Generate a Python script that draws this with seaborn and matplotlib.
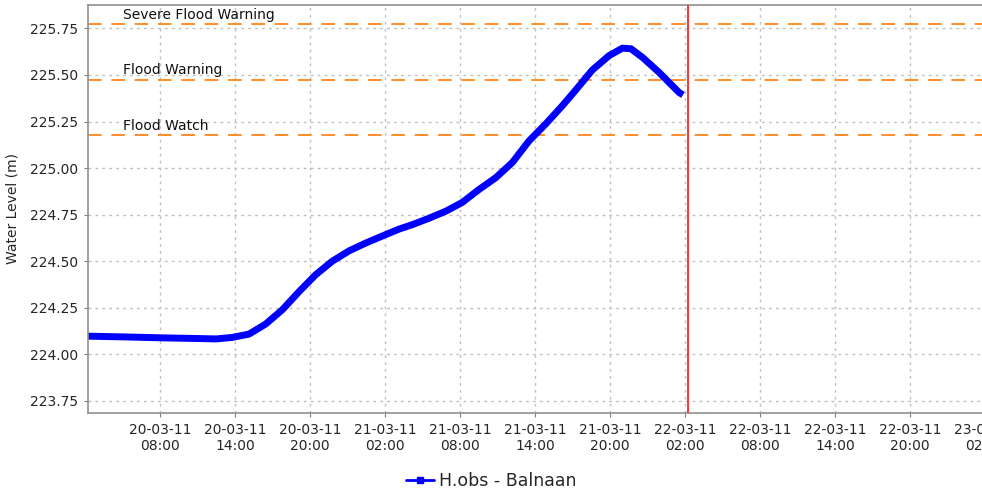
import pandas as pd
import numpy as np
import matplotlib
matplotlib.use('Agg')
import matplotlib.pyplot as plt
import matplotlib.dates as mdates
import seaborn as sns

# water level readings
obs_times = ['2011-03-20 02:00', '2011-03-20 05:00', '2011-03-20 08:00', '2011-03-20 11:07',
             '2011-03-20 12:30', '2011-03-20 13:46', '2011-03-20 15:07', '2011-03-20 16:27',
             '2011-03-20 17:47', '2011-03-20 19:07', '2011-03-20 20:27', '2011-03-20 21:47',
             '2011-03-20 23:07', '2011-03-21 00:27', '2011-03-21 01:47', '2011-03-21 03:07',
             '2011-03-21 04:11', '2011-03-21 05:30', '2011-03-21 06:51', '2011-03-21 08:10',
             '2011-03-21 09:31', '2011-03-21 10:51', '2011-03-21 12:11', '2011-03-21 13:31',
             '2011-03-21 14:51', '2011-03-21 16:11', '2011-03-21 17:15', '2011-03-21 18:35',
             '2011-03-21 19:55', '2011-03-21 20:59', '2011-03-21 21:40', '2011-03-21 22:35',
             '2011-03-21 23:55', '2011-03-22 01:31', '2011-03-22 01:50']
obs_level = [224.097, 224.093, 224.088, 224.084,
             224.082, 224.090, 224.108, 224.162,
             224.239, 224.336, 224.427, 224.500,
             224.555, 224.597, 224.635, 224.672,
             224.696, 224.730, 224.768, 224.815,
             224.885, 224.948, 225.030, 225.146,
             225.237, 225.335, 225.419, 225.527,
             225.604, 225.644, 225.641, 225.595,
             225.514, 225.406, 225.393]

thresh_names = ['Severe Flood Warning', 'Flood Warning', 'Flood Watch']
thresh_levels = [225.773, 225.475, 225.175]

now_time = '2011-03-22 02:14'
window = ['2011-03-20 02:14', '2011-03-23 02:14']

df = pd.DataFrame({'time': pd.to_datetime(obs_times), 'level': obs_level,
                   'series': 'H.obs - Balnaan'})

sns.set_style('white')
plt.rcParams['font.family'] = ['DejaVu Sans']

fig = plt.figure(figsize=(9.82, 5.01), dpi=100)
ax = fig.add_axes([88 / 982, 88 / 501, 900 / 982, 408 / 501])

sns.lineplot(data=df, x='time', y='level', hue='series', palette=['#0000ff'], ax=ax,
             linewidth=5, legend=False, solid_capstyle='butt')

for name, lvl in zip(thresh_names, thresh_levels):
    ax.axhline(lvl, color='#ff8c2a', lw=1.4, dashes=(7, 5), zorder=1)
    ax.text(pd.Timestamp('2011-03-20 05:00'), lvl + 0.012, name, fontsize=10, color='#111111',
            va='bottom', ha='left')

ax.axvline(pd.Timestamp(now_time), color='#ff3333', lw=1.4, zorder=3)

ax.set_xlim(pd.Timestamp(window[0]), pd.Timestamp(window[1]))
ax.set_ylim(223.684, 225.876)
ax.set_yticks(np.arange(223.75, 225.76, 0.25))
ax.yaxis.set_major_formatter(plt.FormatStrFormatter('%.2f'))
ax.xaxis.set_major_locator(mdates.HourLocator(byhour=[2, 8, 14, 20]))
ax.xaxis.set_major_formatter(mdates.DateFormatter('%d-%m-%y\n%H:%M'))
for lab in ax.get_xticklabels():
    lab.set_ha('center')

ax.grid(True, color='#c0c0c0', linestyle=(0, (2, 3)), lw=1)
ax.tick_params(axis='both', labelsize=10, length=3, color='#808080', direction='out',
               bottom=True, left=True, pad=4)
for s in ['left', 'bottom', 'top']:
    ax.spines[s].set_color('#909090')
    ax.spines[s].set_linewidth(1.2)
ax.spines['right'].set_visible(False)

ax.set_xlabel('')
ax.set_ylabel('Water Level (m)', fontsize=10, labelpad=8)

handle = plt.Line2D([], [], color='#0000ff', lw=2, marker='s', markersize=4)
fig.legend([handle], ['H.obs - Balnaan'], loc='lower center', bbox_to_anchor=(0.5, -0.01),
           frameon=False, fontsize=12.5, handlelength=1.6, handletextpad=0.3)

fig.savefig('out.png', dpi=100)
